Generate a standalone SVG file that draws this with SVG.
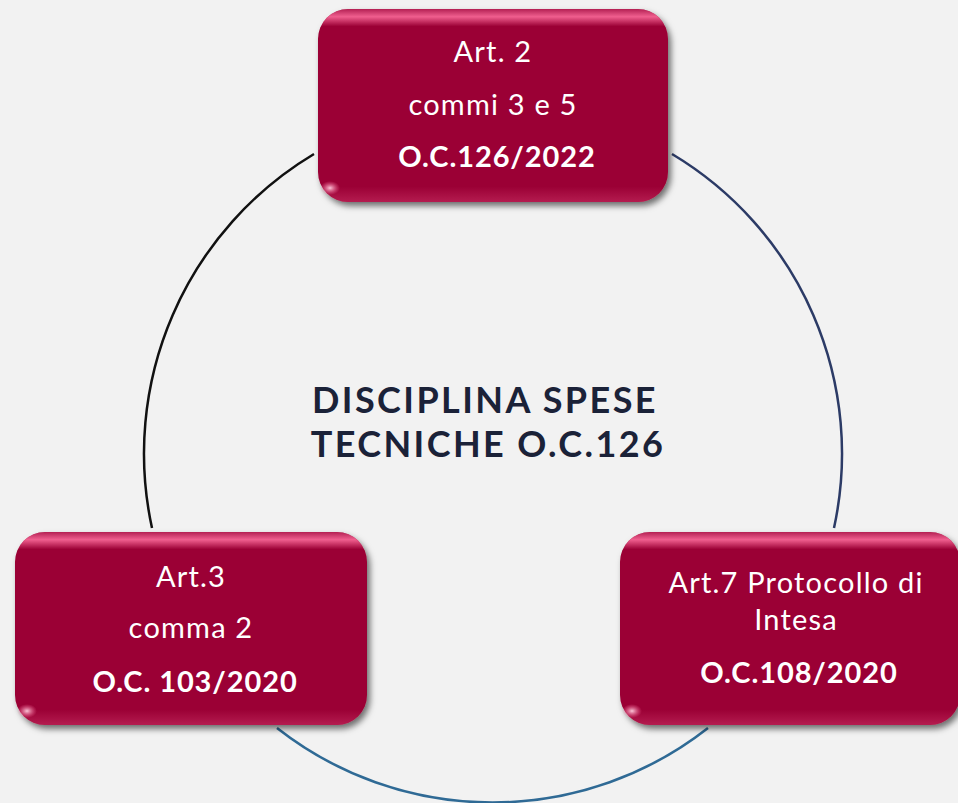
<svg xmlns="http://www.w3.org/2000/svg" width="958" height="803" viewBox="0 0 958 803">
<defs>
<style>
.box{fill:#9b0034}
.t{font-family:Lato,"Open Sans","Liberation Sans",sans-serif;fill:#ffffff;text-anchor:middle;font-size:29px;letter-spacing:1.2px}
.b{font-weight:bold;letter-spacing:0.9px}
.c{font-family:Lato,"Open Sans","Liberation Sans",sans-serif;fill:#1b2238;text-anchor:middle;font-size:36px;font-weight:bold;letter-spacing:2.4px}
.arc{fill:none;stroke-width:2.5}
</style>
<filter id="sh" x="-10%" y="-10%" width="125%" height="130%">
<feDropShadow dx="3" dy="4" stdDeviation="3" flood-color="#000" flood-opacity="0.55"/>
</filter>
<linearGradient id="gl" x1="0" y1="0" x2="0" y2="1">
<stop offset="0" stop-color="#ff7aa8" stop-opacity="0.25"/>
<stop offset="0.04" stop-color="#ff6f9e" stop-opacity="0.85"/>
<stop offset="0.09" stop-color="#ff6f9e" stop-opacity="0"/>
<stop offset="0.92" stop-color="#ff6f9e" stop-opacity="0"/>
<stop offset="1" stop-color="#ff6f9e" stop-opacity="0.25"/>
</linearGradient>
<radialGradient id="cg" cx="0.5" cy="0.5" r="0.5">
<stop offset="0" stop-color="#ffd0e0" stop-opacity="0.95"/>
<stop offset="1" stop-color="#ff6f9e" stop-opacity="0"/>
</radialGradient>
</defs>
<rect x="0" y="0" width="958" height="803" fill="#f2f2f2"/>
<g id="connectors">
<path class="arc" stroke="#111111" d="M314,154 A349,349 0 0 0 152,528"/>
<path class="arc" stroke="#2c3b66" d="M672,154 A349,349 0 0 1 834,528"/>
<path class="arc" stroke="#2f6a95" d="M277,728 A349,349 0 0 0 708,728"/>
</g>
<g id="center">
<text class="c" x="485" y="413">DISCIPLINA SPESE</text>
<text class="c" x="488" y="457">TECNICHE O.C.126</text>
</g>
<g id="node-top">
<rect class="box" x="318" y="9" width="350" height="193" rx="30" filter="url(#sh)"/>
<rect x="318" y="9" width="350" height="193" rx="30" fill="url(#gl)"/>
<ellipse cx="330" cy="188" rx="10" ry="7" fill="url(#cg)"/>
<text class="t" x="493" y="62">Art. 2</text>
<text class="t" x="493" y="115">commi 3 e 5</text>
<text class="t b" x="497" y="167">O.C.126/2022</text>
</g>
<g id="node-left">
<rect class="box" x="15" y="532" width="352" height="193" rx="30" filter="url(#sh)"/>
<rect x="15" y="532" width="352" height="193" rx="30" fill="url(#gl)"/>
<ellipse cx="27" cy="711" rx="10" ry="7" fill="url(#cg)"/>
<text class="t" x="191" y="587">Art.3</text>
<text class="t" x="191" y="638">comma 2</text>
<text class="t b" x="195" y="692">O.C. 103/2020</text>
</g>
<g id="node-right">
<rect class="box" x="620" y="532" width="340" height="193" rx="30" filter="url(#sh)"/>
<rect x="620" y="532" width="340" height="193" rx="30" fill="url(#gl)"/>
<ellipse cx="632" cy="711" rx="10" ry="7" fill="url(#cg)"/>
<text class="t" x="796" y="593">Art.7 Protocollo di</text>
<text class="t" x="796" y="630">Intesa</text>
<text class="t b" x="799" y="683">O.C.108/2020</text>
</g>
</svg>
